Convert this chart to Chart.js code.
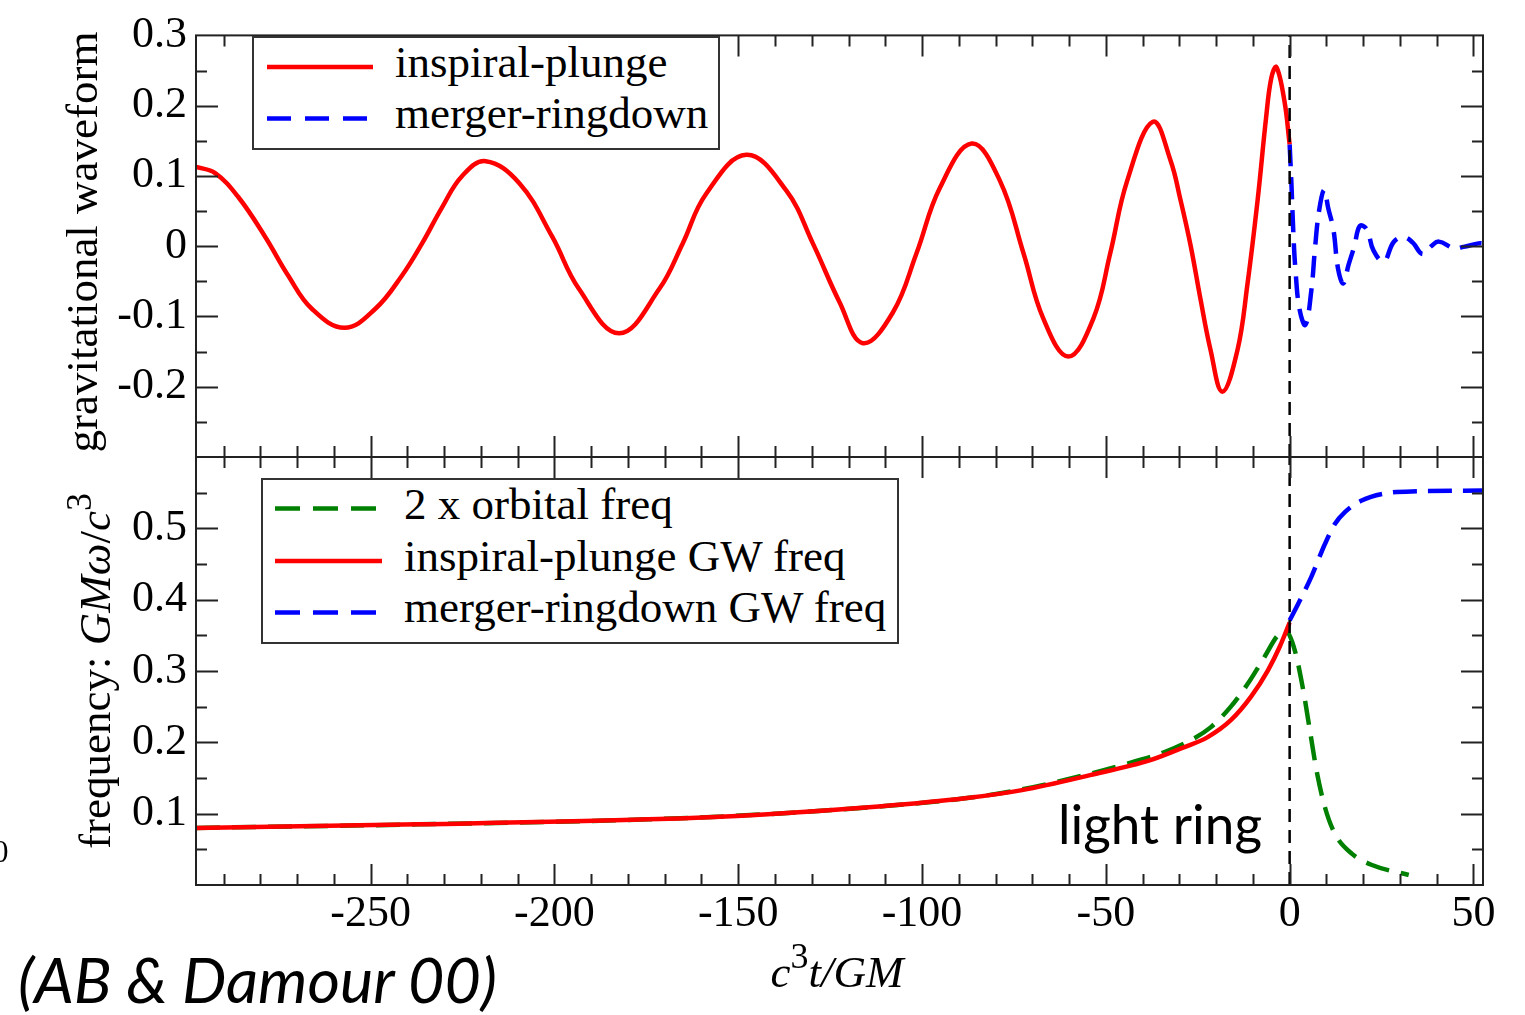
<!DOCTYPE html>
<html>
<head>
<meta charset="utf-8">
<script src="https://cdn.jsdelivr.net/npm/chart.js@4.4.0/dist/chart.umd.min.js"></script>
<style>
  body { margin: 0; background: #fff; width: 1525px; height: 1015px; overflow: hidden; position: relative; }
  canvas { position: absolute; left: 0; top: 0; }
  svg { position: absolute; left: 0; top: 0; }
  .serif { font-family: "Liberation Serif", "Times New Roman", serif; fill: #000; }
  .sans { font-family: "Lato", "Open Sans", sans-serif; fill: #000; }
</style>
</head>
<body>
<canvas id="waveChart" width="1525" height="1015"></canvas>
<canvas id="freqChart" width="1525" height="1015"></canvas>

<svg width="1525" height="1015">
  <!-- legend top -->
  <rect x="253" y="37" width="466" height="112" fill="#fff" stroke="#333" stroke-width="2"/>
  <line x1="267" y1="67" x2="373" y2="67" stroke="#ff0000" stroke-width="4.5"/>
  <line x1="267" y1="118.5" x2="368" y2="118.5" stroke="#0000ff" stroke-width="4.5" stroke-dasharray="24 14"/>
  <text class="serif" x="395" y="77" font-size="45">inspiral-plunge</text>
  <text class="serif" x="395" y="128" font-size="45">merger-ringdown</text>

  <!-- legend bottom -->
  <rect x="262" y="479" width="636" height="164" fill="#fff" stroke="#333" stroke-width="2"/>
  <line x1="275" y1="508.5" x2="377" y2="508.5" stroke="#008000" stroke-width="4.5" stroke-dasharray="25 13"/>
  <line x1="275" y1="561" x2="382" y2="561" stroke="#ff0000" stroke-width="4.5"/>
  <line x1="275" y1="612.5" x2="377" y2="612.5" stroke="#0000ff" stroke-width="4.5" stroke-dasharray="25 13"/>
  <text class="serif" x="404" y="519" font-size="45">2 x orbital freq</text>
  <text class="serif" x="404" y="571" font-size="45">inspiral-plunge GW freq</text>
  <text class="serif" x="404" y="622" font-size="45">merger-ringdown GW freq</text>

  <!-- axis titles -->
  <text class="serif" font-size="45" text-anchor="middle" transform="translate(97,242) rotate(-90)">gravitational waveform</text>
  <text class="serif" font-size="45" text-anchor="middle" transform="translate(110,671) rotate(-90)">frequency: <tspan font-style="italic">GMω</tspan>/<tspan font-style="italic">c</tspan><tspan font-size="36" dy="-19">3</tspan></text>
  <text class="serif" font-size="45" text-anchor="middle" x="837" y="987"><tspan font-style="italic">c</tspan><tspan font-size="36" dy="-19">3</tspan><tspan font-style="italic" dy="19">t/GM</tspan></text>

  <!-- notes -->
  <text class="sans" x="1058" y="844" font-size="55" textLength="204" lengthAdjust="spacingAndGlyphs">light ring</text>
  <text class="sans" x="18" y="1003" font-size="62" font-style="italic" textLength="479" lengthAdjust="spacingAndGlyphs">(AB &amp; Damour 00)</text>
  <text class="serif" x="-7" y="862" font-size="31">0</text>
</svg>

<script>
"use strict"

// waveform, inspiral-plunge (red)
const inspiralT = [-297.5, -292.3, -286, -278.7, -272.4, -266, -257.1, -248.7, -241.5, -236, -230.6, -225.1, -218.7,
  -209.6, -200.6, -193.3, -182.4, -171.5, -165.1, -158.8, -147.8, -136.9, -129.7, -122.4, -116.1, -107.9, -101.5,
  -95.1, -86.5, -78.8, -72.4, -67, -60.2, -53.4, -48.8, -44.2, -37.2, -32.4, -29.7, -26.9, -24.3, -21.5, -18.3,
  -14.2, -11.5, -8.7, -6.4, -5.0, -3.6, -1.4, 0];
const inspiralH = [0.113, 0.104, 0.070, 0.0135, -0.042, -0.089, -0.116, -0.089, -0.042, 0.004, 0.055, 0.100, 0.121,
  0.090, 0.0135, -0.061, -0.124, -0.061, 0.004, 0.074, 0.130, 0.079, 0.004, -0.080, -0.138, -0.094, -0.010,
  0.0835, 0.146, 0.093, -0.010, -0.103, -0.157, -0.103, -0.010, 0.093, 0.177, 0.122, 0.066, 0.0, -0.074, -0.148, -0.207,
  -0.148, -0.055, 0.066, 0.183, 0.239, 0.255, 0.206, 0.145];

// waveform, merger-ringdown (blue)
const ringdownT = [0, 0.5, 1.0, 1.6, 2.7, 4.3, 5.9, 6.9, 8.0, 9.4, 10.5, 11.9, 13.2, 14.6, 16.0, 17.6, 19.1, 21.0,
  22.8, 25.6, 28.3, 31.0, 33.5, 36.1, 38.5, 40.6, 44.7, 47.3, 51.4, 52.6];
const ringdownH = [0.145, 0.087, 0.020, -0.035, -0.090, -0.112, -0.063, -0.003, 0.050, 0.080, 0.054, 0.024, -0.033,
  -0.053, -0.027, 0.0, 0.029, 0.024, -0.006, -0.022, 0.006, 0.013, 0.005, -0.011, 0.0, 0.0065, -0.003, -0.001, 0.004, 0.004];

// frequency, inspiral-plunge GW freq (red)
const gwFreqT = [-297.5, -237, -174.5, -143, -111.8, -88.3, -72.8, -54.3, -37.9, -28.8, -22.4, -16, -10.5, -5.9, -2.7, 0];
const gwFreq = [0.080, 0.085, 0.092, 0.099, 0.110, 0.1215, 0.133, 0.154, 0.175, 0.193, 0.207, 0.231, 0.264, 0.301, 0.334, 0.368];

// frequency, 2 x orbital freq (green)
const orbFreqT = [-297.5, -237, -174.5, -143, -111.8, -88.3, -72.8, -54.3, -43, -34.2, -26.9, -21.5, -16, -11.4, -6.8,
  -3.2, -0.9, 1.4, 3.7, 5.5, 7.3, 9.6, 12.3, 16.9, 22.4, 32.4];
const orbFreq = [0.080, 0.085, 0.092, 0.099, 0.110, 0.1215, 0.134, 0.156, 0.172, 0.186, 0.203, 0.221, 0.250, 0.282, 0.320,
  0.350, 0.355, 0.329, 0.273, 0.217, 0.161, 0.109, 0.072, 0.044, 0.028, 0.014];

// frequency, merger-ringdown GW freq (blue)
const ringFreqT = [0, 2.3, 5.9, 9.6, 12.3, 15.1, 19.6, 26, 35.2, 52.6];
const ringFreq = [0.371, 0.394, 0.432, 0.478, 0.506, 0.523, 0.539, 0.549, 0.552, 0.553];

// light ring line
const lightRingT = [0, 0];
const lightRingTop = [-0.3, 0.3];
const lightRingBot = [0, 0.6];

// axes
const xMin = -297.5, xMax = 52.6;
const xTickValues = [-250, -200, -150, -100, -50, 0, 50];
const xTickLabels = ["-250", "-200", "-150", "-100", "-50", "0", "50"];
const yTopTicks = [-0.2, -0.1, 0, 0.1, 0.2, 0.3];
const yTopLabels = ["-0.2", "-0.1", "0", "0.1", "0.2", "0.3"];
const yBotTicks = [0.1, 0.2, 0.3, 0.4, 0.5];
const yBotLabels = ["0.1", "0.2", "0.3", "0.4", "0.5"];

const tickFont = { family: "'Liberation Serif', 'Times New Roman', serif", size: 44 };

function pts(xs, ys) {
    return xs.map((x, i) => ({ x: x, y: ys[i] }));
}

// frame + inside ticks on all sides
const frameTicks = {
    id: "frameTicks",
    afterDraw(chart, args, opts) {
        const ctx = chart.ctx;
        const a = chart.chartArea;
        const x = chart.scales.x, y = chart.scales.y;
        ctx.save();
        ctx.strokeStyle = "#222";
        ctx.lineWidth = 2;
        ctx.strokeRect(a.left, a.top, a.right - a.left, a.bottom - a.top);
        ctx.beginPath();
        for (let i = -29; i <= 5; i++) {
            const len = i % 5 === 0 ? 21 : 11;
            const px = Math.round(x.getPixelForValue(i * 10)) + 0.5;
            ctx.moveTo(px, a.top); ctx.lineTo(px, a.top + len);
            ctx.moveTo(px, a.bottom); ctx.lineTo(px, a.bottom - len);
        }
        for (let k = 1; k < 12; k++) {
            const len = k % 2 === 0 ? 22 : 11;
            const py = Math.round(y.getPixelForValue(opts.yMin + k * 0.05)) + 0.5;
            ctx.moveTo(a.left, py); ctx.lineTo(a.left + len, py);
            ctx.moveTo(a.right, py); ctx.lineTo(a.right - len, py);
        }
        ctx.stroke();
        ctx.restore();
    }
};

function yScale(min, max, values, labels) {
    return {
        type: "linear", min: min, max: max, bounds: "data",
        afterBuildTicks: s => { s.ticks = values.map(v => ({ value: v })); },
        afterFit: s => { s.width = 196; },
        ticks: { font: tickFont, color: "#000", padding: 9, callback: v => labels[values.indexOf(v)] },
        grid: { display: false, drawTicks: false },
        border: { display: false }
    };
}

function xScale(show) {
    return {
        type: "linear", min: xMin, max: xMax, bounds: "data", display: show,
        afterBuildTicks: s => { s.ticks = xTickValues.map(v => ({ value: v })); },
        afterFit: s => { s.height = show ? 130 : 0; },
        ticks: { font: tickFont, color: "#000", padding: 3, maxRotation: 0, autoSkip: false,
            callback: v => xTickLabels[xTickValues.indexOf(v)] },
        grid: { display: false, drawTicks: false },
        border: { display: false }
    };
}

const smooth = { pointRadius: 0, fill: false, tension: 0.4 };
const mono = { pointRadius: 0, fill: false, cubicInterpolationMode: "monotone" };
const straight = { pointRadius: 0, fill: false, tension: 0 };

// top panel
new Chart(document.getElementById("waveChart"), {
    type: "line",
    data: {
        datasets: [
            Object.assign({ data: pts(lightRingT, lightRingTop), borderColor: "#000", borderWidth: 2.5, borderDash: [13, 8] }, straight),
            Object.assign({ data: pts(inspiralT, inspiralH), borderColor: "#ff0000", borderWidth: 4.5 }, smooth),
            Object.assign({ data: pts(ringdownT, ringdownH), borderColor: "#0000ff", borderWidth: 4.5, borderDash: [22, 11] }, smooth)
        ]
    },
    options: {
        responsive: false, animation: false, devicePixelRatio: 1,
        layout: { padding: { top: 29, right: 42, bottom: 558, left: 0 } },
        scales: { x: xScale(false), y: yScale(-0.3, 0.3, yTopTicks, yTopLabels) },
        plugins: { legend: { display: false }, tooltip: { enabled: false }, frameTicks: { yMin: -0.3 } }
    },
    plugins: [frameTicks]
});

// bottom panel
new Chart(document.getElementById("freqChart"), {
    type: "line",
    data: {
        datasets: [
            Object.assign({ data: pts(lightRingT, lightRingBot), borderColor: "#000", borderWidth: 2.5, borderDash: [13, 8] }, straight),
            Object.assign({ data: pts(gwFreqT, gwFreq), borderColor: "#ff0000", borderWidth: 4.5 }, mono),
            Object.assign({ data: pts(ringFreqT, ringFreq), borderColor: "#0000ff", borderWidth: 4.5, borderDash: [24, 11] }, mono),
            Object.assign({ data: pts(orbFreqT, orbFreq), borderColor: "#008000", borderWidth: 4.5, borderDash: [24, 12] }, mono)
        ]
    },
    options: {
        responsive: false, animation: false, devicePixelRatio: 1,
        layout: { padding: { top: 457, right: 42, bottom: 0, left: 0 } },
        scales: { x: xScale(true), y: yScale(0, 0.6, yBotTicks, yBotLabels) },
        plugins: { legend: { display: false }, tooltip: { enabled: false }, frameTicks: { yMin: 0 } }
    },
    plugins: [frameTicks]
});
</script>
</body>
</html>
